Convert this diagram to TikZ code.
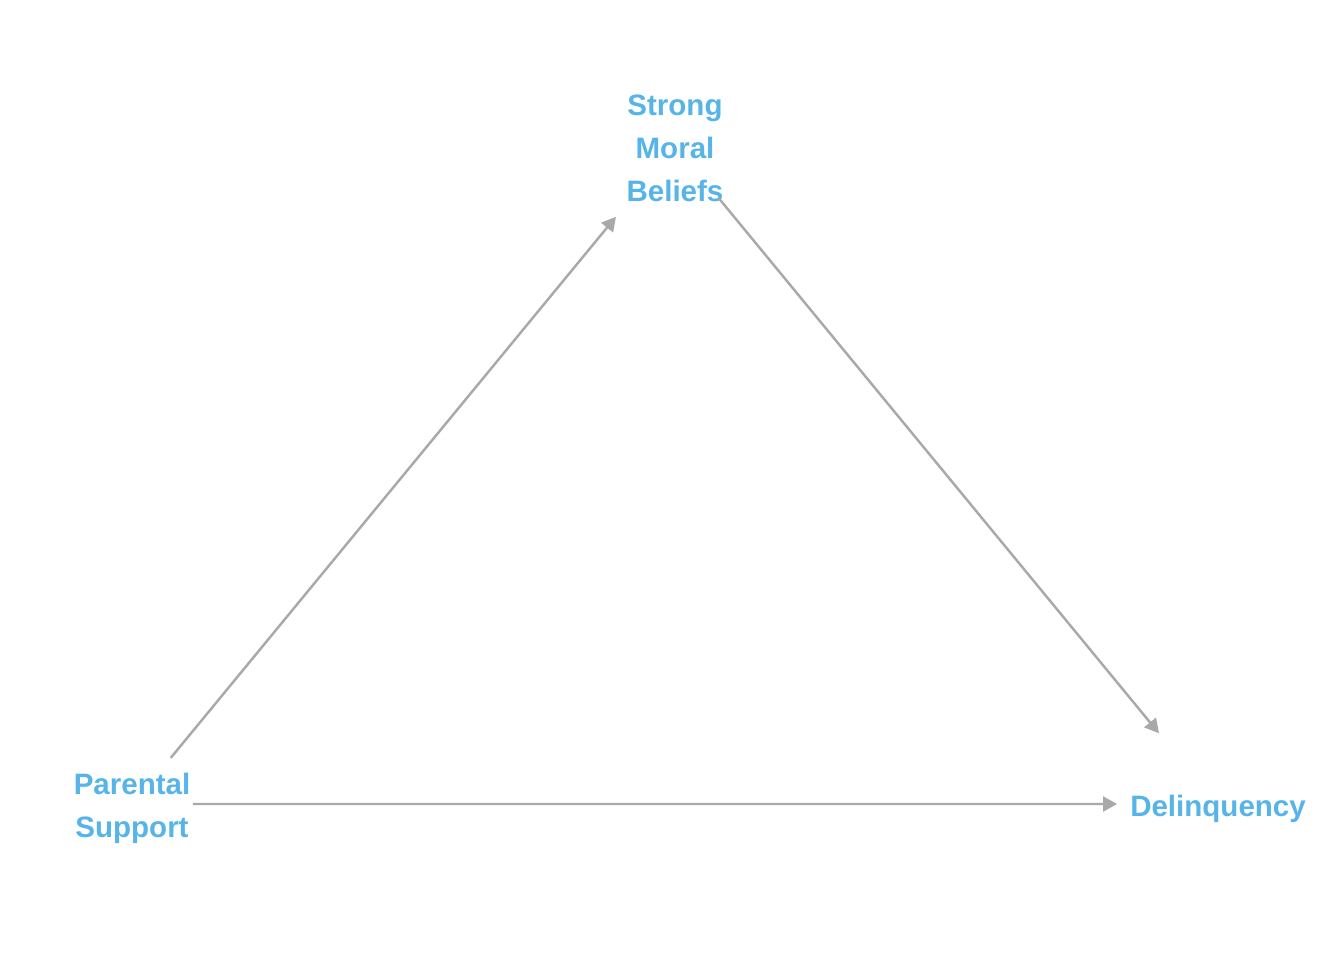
\documentclass[tikz,border=0pt]{standalone}
\usepackage{fontspec}
\setmainfont{Liberation Sans}
\usepackage{xcolor}
\usetikzlibrary{arrows.meta,positioning}
\definecolor{dagBlue}{HTML}{56B4E9}
\definecolor{dagGray}{HTML}{A9A9A9}
\tikzset{
  dagVar/.style={text=dagBlue, align=center, inner sep=0pt,
    font=\fontsize{16.8}{24.5}\selectfont\bfseries},
  %% edges between variables
  dagEdge/.style={-{Triangle[length=0.28cm, width=0.3cm]}, draw=dagGray, line width=1.4pt},
}
\begin{document}
\begin{tikzpicture}[x=0.02cm, y=-0.02cm]
\useasboundingbox (0,0) rectangle (1344,960);

\node[dagVar] (pMoral)  at (675,148)  {Strong\\Moral\\Beliefs};
\node[dagVar] (pParent) at (132,808)  {Parental\\Support};
\node[dagVar] (pDelinq) at (1218,809) {Delinquency};

\draw[dagEdge, shorten <=1.22cm, shorten >=1.86cm]
  ([yshift=0.06cm]pParent.center) -- ([yshift=0.06cm]pMoral.center);
\draw[dagEdge, shorten <=1.38cm, shorten >=1.86cm]
  ([yshift=0.06cm]pMoral.center) -- ([yshift=0.08cm]pDelinq.center);
\draw[dagEdge, shorten <=1.22cm, shorten >=2.02cm]
  ([yshift=0.08cm]pParent.center) -- ([yshift=0.1cm]pDelinq.center);

\end{tikzpicture}
\end{document}
